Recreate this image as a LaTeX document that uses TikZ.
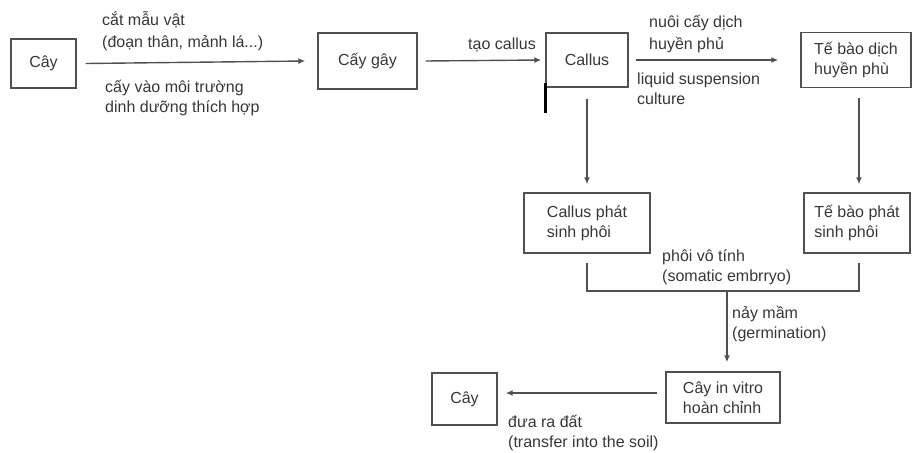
\documentclass[tikz,border=0pt]{standalone}
\usepackage{fontspec}
\setmainfont{Liberation Sans}
\usetikzlibrary{arrows.meta}
\definecolor{txt}{RGB}{55,55,55}
\definecolor{ln}{RGB}{80,80,80}
\tikzset{
  box/.style={draw=ln, line width=1.4pt, rectangle, inner sep=0pt, text=txt, align=left,
     font=\fontsize{16}{20}\selectfont},
  lbl/.style={inner sep=0pt, text=txt, align=left, anchor=west,
     font=\fontsize{16}{20}\selectfont},
  conn/.style={draw=ln, line width=1.4pt, -{Latex[length=7pt,width=6pt]}},
  plain/.style={draw=ln, line width=1.4pt},
}
\begin{document}
\begin{tikzpicture}[x=1pt,y=-1pt]
\useasboundingbox (0,0) rectangle (912,452);
% boxes
\node[box, minimum width=65, minimum height=49] (c1) at (43.5,63.5) {Cây};
\node[box, minimum width=99, minimum height=56] (c2) at (367.5,61) {Cấy gây};
\node[box, minimum width=82, minimum height=54] (c3) at (587,60) {Callus};
\node[box, minimum width=110, minimum height=55] (c4) at (856,60) {Tế bào dịch\\huyền phù};
\node[box, minimum width=126, minimum height=60] (c5) at (587,223) {Callus phát\\sinh phôi};
\node[box, minimum width=106, minimum height=60] (c6) at (857,223) {Tế bào phát\\sinh phôi};
\node[box, minimum width=114, minimum height=51] (c7) at (723,397.5) {Cây in vitro\\hoàn chỉnh};
\node[box, minimum width=65, minimum height=52] (c8) at (464.5,399) {Cây};
% thick tick under Callus box
\coordinate (tk1) at (545,83);
\coordinate (tk2) at (545,113);
\draw[line width=3pt, black] (tk1) -- (tk2);
% horizontal arrows
\draw[conn] ([xshift=9]c1.east) -- ([xshift=-12]c2.west);
\draw[conn] ([xshift=8]c2.east) -- ([xshift=-4]c3.west);
\draw[conn] ([xshift=7]c3.east) -- ([xshift=-22]c4.west);
\draw[conn] ([xshift=-8,yshift=4.5]c7.west) -- ([xshift=8,yshift=6]c8.east);
% vertical arrows
\draw[conn] ([yshift=-11]c3.south) -- ([yshift=8]c5.north);
\draw[conn] ([xshift=3,yshift=-10]c4.south) -- ([xshift=2,yshift=8]c6.north);
% bracket
\coordinate (bj) at (727,291);
\draw[plain] ([yshift=-9]c5.south) |- (bj);
\draw[plain] ([xshift=2,yshift=-9]c6.south) |- (bj);
\draw[conn] (bj) -- ([xshift=4,yshift=9]c7.north);
% labels
\node[lbl] (l1) at (102,31) {cắt mẫu vật\\[2pt](đoạn thân, mảnh lá...)};
\node[lbl] (l2) at (105,98) {cấy vào môi trường\\dinh dưỡng thích hợp};
\node[lbl] (l3) at (468,45) {tạo callus};
\node[lbl] (l4) at (649,34) {nuôi cấy dịch\\[2pt]huyền phủ};
\node[lbl] (l5) at (637,89) {liquid suspension\\culture};
\node[lbl] (l6) at (662,267) {phôi vô tính\\(somatic embrryo)};
\node[lbl] (l7) at (732,324) {nảy mầm\\(germination)};
\node[lbl] (l8) at (508,433) {đưa ra đất\\(transfer into the soil)};
\end{tikzpicture}
\end{document}
